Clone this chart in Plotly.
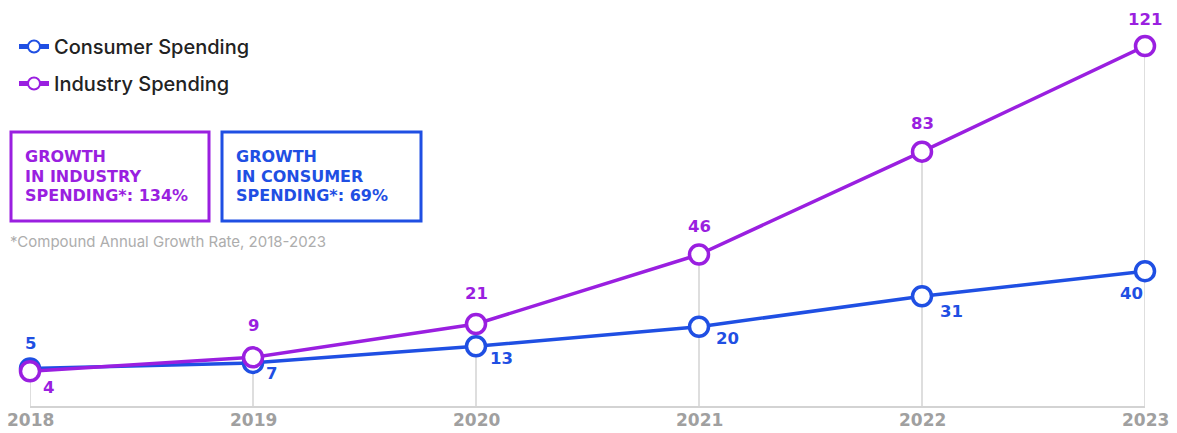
import plotly.graph_objects as go

# Spending by year (values shown on the chart)
years = [2018, 2019, 2020, 2021, 2022, 2023]
consumer = [5, 7, 13, 20, 31, 40]
industry = [4, 9, 21, 46, 83, 121]
tick_labels = ["2018", "2019", "2020", "2021", "2022", "2023"]

BLUE = "#1f4fe3"
PURPLE = "#9a1fe0"
GRID = "#d3d3d3"
FONT = "Inter"
BOLD = "DejaVu Sans"

Y_MIN, Y_MAX = -8.5, 130.35

fig = go.Figure()

fig.add_trace(go.Scatter(
    x=years, y=consumer, name="Consumer Spending", mode="lines+markers",
    line=dict(color=BLUE, width=3.5),
    marker=dict(symbol="circle", size=19, color="white", line=dict(color=BLUE, width=3.5)),
    cliponaxis=False, legendgroup="c",
))
fig.add_trace(go.Scatter(
    x=years, y=industry, name="Industry Spending", mode="lines+markers",
    line=dict(color=PURPLE, width=3.5),
    marker=dict(symbol="circle", size=19, color="white", line=dict(color=PURPLE, width=3.5)),
    cliponaxis=False, legendgroup="i",
))

# Drop lines from the baseline up to the highest point of each year
shapes = []
for x, c, i in zip(years, consumer, industry):
    shapes.append(dict(type="line", xref="x", yref="y", x0=x, x1=x, y0=Y_MIN, y1=max(c, i),
                       line=dict(color=GRID, width=1.5), layer="below"))

# Pixel helpers for the callout boxes (plot area spans x 30..1145, y 20..406)
def px(X):
    return (X - 30) / 1115

def py(Y):
    return (406 - Y) / 386

shapes.append(dict(type="rect", xref="paper", yref="paper",
                   x0=px(11), x1=px(209), y0=py(132), y1=py(221),
                   line=dict(color=PURPLE, width=3)))
shapes.append(dict(type="rect", xref="paper", yref="paper",
                   x0=px(222), x1=px(421), y0=py(132), y1=py(221),
                   line=dict(color=BLUE, width=3)))

annotations = []
label_font = dict(family=BOLD, size=16.5, weight=800)
# Value labels for industry spending (above the points)
ind_offsets = [(18, -16), (0, 32), (0, 30), (0, 28), (0, 28), (0, 26)]
for x, v, (dx, dy) in zip(years, industry, ind_offsets):
    annotations.append(dict(x=x, y=v, xref="x", yref="y", text=str(v), showarrow=False,
                            xshift=dx, yshift=dy, font=dict(label_font, color=PURPLE)))
# Value labels for consumer spending (mostly below-right)
con_offsets = [(0, 25), (18, -11), (25, -12), (28, -12), (29, -15), (-14, -22)]
for x, v, (dx, dy) in zip(years, consumer, con_offsets):
    annotations.append(dict(x=x, y=v, xref="x", yref="y", text=str(v), showarrow=False,
                            xshift=dx, yshift=dy, font=dict(label_font, color=BLUE)))

# Year labels under the baseline
for x, t in zip(years, tick_labels):
    annotations.append(dict(x=x, y=py(420), xref="x", yref="paper", text=t, showarrow=False,
                            yanchor="middle",
                            font=dict(family=BOLD, size=17, color="#a0a0a0", weight=800)))

# Callout texts, one line at a time
callouts = [
    (23, PURPLE, ["GROWTH", "IN INDUSTRY", "SPENDING*: 134%"]),
    (234, BLUE, ["GROWTH", "IN CONSUMER", "SPENDING*: 69%"]),
]
for left, color, lines in callouts:
    for k, line in enumerate(lines):
        annotations.append(dict(xref="paper", yref="paper", x=px(left), y=py(156 + 20 * k),
                                xanchor="left", yanchor="middle", showarrow=False, text=line,
                                font=dict(family=BOLD, size=16, color=color, weight=800)))

annotations.append(dict(xref="paper", yref="paper", x=px(8), y=py(241), xanchor="left", yanchor="middle",
                        showarrow=False, text="*Compound Annual Growth Rate, 2018-2023",
                        font=dict(family=FONT, size=15, color="#adadad")))

fig.update_layout(
    width=1177, height=433,
    margin=dict(l=30, r=32, t=20, b=27, autoexpand=False),
    paper_bgcolor="white", plot_bgcolor="white",
    shapes=shapes, annotations=annotations,
    showlegend=True,
    legend=dict(x=px(14), y=py(27), xanchor="left", yanchor="top",
                font=dict(family=FONT, size=20, color="#222222", weight=500),
                itemwidth=30, itemsizing="constant", tracegroupgap=8,
                bgcolor="rgba(0,0,0,0)"),
    xaxis=dict(range=[2018, 2023], tickvals=years, showticklabels=False,
               showgrid=False, zeroline=False, showline=True, linecolor=GRID, linewidth=2,
               ticks="", automargin=False, fixedrange=True),
    yaxis=dict(range=[Y_MIN, Y_MAX], visible=False, fixedrange=True),
)

fig.write_html("out.html")
